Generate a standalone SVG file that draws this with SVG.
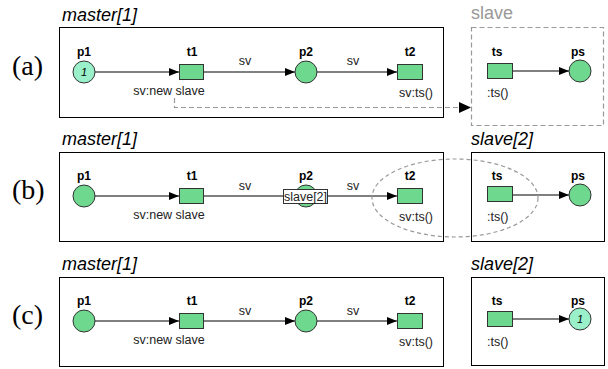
<svg xmlns="http://www.w3.org/2000/svg" width="608" height="369" viewBox="0 0 608 369">
  <style>
    .frame { fill: #ffffff; stroke: #000000; stroke-width: 1; }
    .frame-dash { fill: #ffffff; stroke: #999999; stroke-width: 1.2; stroke-dasharray: 5 3; }
    .title { font-family: "Liberation Sans", Arial, sans-serif; font-style: italic; font-size: 18px; fill: #000000; }
    .title-gray { font-family: "Liberation Sans", Arial, sans-serif; font-size: 18px; fill: #999999; }
    .tag { font-family: "Liberation Serif", "Times New Roman", serif; font-size: 28px; fill: #000000; }
    .place { fill: #6fd88f; stroke: #333333; stroke-width: 1; }
    .marked { fill: #9af0c8; stroke: #333333; stroke-width: 1; }
    .trans { fill: #6fd88f; stroke: #333333; stroke-width: 1; }
    .name { font-family: "Liberation Sans", Arial, sans-serif; font-weight: bold; font-size: 12px; fill: #000000; text-anchor: middle; }
    .lbl { font-family: "Liberation Sans", Arial, sans-serif; font-size: 12.5px; fill: #222222; }
    .tok { font-family: "Liberation Sans", Arial, sans-serif; font-style: italic; font-size: 11px; fill: #000000; text-anchor: middle; }
    .arc { stroke: #000000; stroke-width: 1; fill: none; }
    .arc-gray { stroke: #555555; stroke-width: 1.3; fill: none; }
    .link { stroke: #999999; stroke-width: 1.2; stroke-dasharray: 5 3; fill: none; }
  </style>
  <defs>
    <marker id="arrow" viewBox="0 0 10 8" refX="10" refY="4" markerWidth="10" markerHeight="8" markerUnits="userSpaceOnUse" orient="auto">
      <path d="M0,0 L10,4 L0,8 Z" fill="#000000"/>
    </marker>
  </defs>

  <!-- row labels -->
  <text class="tag" x="12" y="75">(a)</text>
  <text class="tag" x="12" y="199">(b)</text>
  <text class="tag" x="12" y="324">(c)</text>

  <!-- ===== row (a) ===== -->
  <g id="master-a">
    <text class="title" x="62" y="21">master[1]</text>
    <rect class="frame" x="59.5" y="27.5" width="384" height="90"/>
  </g>
  <g id="slave-a">
    <text class="title-gray" x="471" y="19">slave</text>
    <rect class="frame-dash" x="471.5" y="27.5" width="132" height="98"/>
  </g>
  <g id="connectors-a">
    <line class="arc" x1="95" y1="72" x2="179" y2="72" marker-end="url(#arrow)"/>
    <line class="arc" x1="204" y1="72" x2="295" y2="72" marker-end="url(#arrow)"/>
    <line class="arc" x1="317" y1="72" x2="397" y2="72" marker-end="url(#arrow)"/>
    <line class="arc-gray" x1="512" y1="71" x2="569" y2="71" marker-end="url(#arrow)"/>
    <polyline class="link" points="174.5,98 174.5,107.5 459,107.5"/>
    <path d="M459,102 L471,107.5 L459,113 Z" fill="#000000"/>
    <text class="lbl" x="245" y="65" text-anchor="middle">sv</text>
    <text class="lbl" x="353" y="65" text-anchor="middle">sv</text>
  </g>
  <g id="p1-a">
    <circle class="marked" cx="84" cy="72" r="11"/>
    <text class="tok" x="84" y="76">1</text>
    <text class="name" x="84" y="56">p1</text>
  </g>
  <g id="t1-a">
    <rect class="trans" x="179.5" y="64.5" width="24" height="15"/>
    <text class="name" x="192" y="56">t1</text>
    <text class="lbl" x="169" y="95" text-anchor="middle">sv:new slave</text>
  </g>
  <g id="p2-a">
    <circle class="place" cx="306" cy="72" r="11"/>
    <text class="name" x="306" y="56">p2</text>
  </g>
  <g id="t2-a">
    <rect class="trans" x="397.5" y="64.5" width="25" height="15"/>
    <text class="name" x="410" y="56">t2</text>
    <text class="lbl" x="416" y="97" text-anchor="middle">sv:ts()</text>
  </g>
  <g id="ts-a">
    <rect class="trans" x="487.5" y="63.5" width="25" height="15"/>
    <text class="name" x="497" y="56">ts</text>
    <text class="lbl" x="487" y="97">:ts()</text>
  </g>
  <g id="ps-a">
    <circle class="place" cx="580" cy="71" r="11"/>
    <text class="name" x="578" y="56">ps</text>
  </g>

  <!-- ===== row (b) ===== -->
  <g id="master-b">
    <text class="title" x="62" y="145">master[1]</text>
    <rect class="frame" x="59.5" y="152.5" width="384" height="89"/>
  </g>
  <g id="slave-b">
    <text class="title" x="471" y="145">slave[2]</text>
    <rect class="frame" x="471.5" y="152.5" width="133" height="89"/>
  </g>
  <g id="connectors-b">
    <line class="arc" x1="95" y1="196" x2="179" y2="196" marker-end="url(#arrow)"/>
    <line class="arc" x1="204" y1="196" x2="295" y2="196" marker-end="url(#arrow)"/>
    <line class="arc" x1="317" y1="196" x2="397" y2="196" marker-end="url(#arrow)"/>
    <line class="arc-gray" x1="512" y1="195" x2="569" y2="195" marker-end="url(#arrow)"/>
    <text class="lbl" x="245" y="190" text-anchor="middle">sv</text>
    <text class="lbl" x="353" y="190" text-anchor="middle">sv</text>
  </g>
  <g id="p1-b">
    <circle class="place" cx="84" cy="196" r="11"/>
    <text class="name" x="84" y="180">p1</text>
  </g>
  <g id="t1-b">
    <rect class="trans" x="179.5" y="188.5" width="24" height="15"/>
    <text class="name" x="192" y="180">t1</text>
    <text class="lbl" x="169" y="219" text-anchor="middle">sv:new slave</text>
  </g>
  <g id="p2-b">
    <circle class="place" cx="306" cy="196" r="11" stroke="#3a8a7a"/>
    <text class="name" x="306" y="180">p2</text>
    <rect x="283.5" y="189.5" width="44" height="14" fill="#ffffff" stroke="#333333" stroke-width="1"/>
    <text class="lbl" x="305.5" y="201" text-anchor="middle" fill="#000000" font-size="12px">slave[2]</text>
  </g>
  <g id="t2-b">
    <rect class="trans" x="397.5" y="188.5" width="25" height="15"/>
    <text class="name" x="410" y="180">t2</text>
    <text class="lbl" x="416" y="221" text-anchor="middle">sv:ts()</text>
  </g>
  <g id="ts-b">
    <rect class="trans" x="487.5" y="186.5" width="25" height="15"/>
    <text class="name" x="497" y="180">ts</text>
    <text class="lbl" x="487" y="221">:ts()</text>
  </g>
  <g id="ps-b">
    <circle class="place" cx="580" cy="195" r="11"/>
    <text class="name" x="578" y="180">ps</text>
  </g>
  <g id="focus-b">
    <ellipse cx="455" cy="198" rx="83" ry="39" fill="none" stroke="#999999" stroke-width="1.2" stroke-dasharray="4 3"/>
  </g>

  <!-- ===== row (c) ===== -->
  <g id="master-c">
    <text class="title" x="62" y="270">master[1]</text>
    <rect class="frame" x="59.5" y="277.5" width="384" height="89"/>
  </g>
  <g id="slave-c">
    <text class="title" x="471" y="270">slave[2]</text>
    <rect class="frame" x="471.5" y="277.5" width="133" height="88"/>
  </g>
  <g id="connectors-c">
    <line class="arc" x1="95" y1="321" x2="179" y2="321" marker-end="url(#arrow)"/>
    <line class="arc" x1="204" y1="321" x2="295" y2="321" marker-end="url(#arrow)"/>
    <line class="arc" x1="317" y1="321" x2="397" y2="321" marker-end="url(#arrow)"/>
    <line class="arc-gray" x1="512" y1="319" x2="569" y2="319" marker-end="url(#arrow)"/>
    <text class="lbl" x="245" y="315" text-anchor="middle">sv</text>
    <text class="lbl" x="353" y="315" text-anchor="middle">sv</text>
  </g>
  <g id="p1-c">
    <circle class="place" cx="84" cy="321" r="11"/>
    <text class="name" x="84" y="305">p1</text>
  </g>
  <g id="t1-c">
    <rect class="trans" x="179.5" y="313.5" width="24" height="15"/>
    <text class="name" x="192" y="305">t1</text>
    <text class="lbl" x="169" y="344" text-anchor="middle">sv:new slave</text>
  </g>
  <g id="p2-c">
    <circle class="place" cx="306" cy="321" r="11"/>
    <text class="name" x="306" y="305">p2</text>
  </g>
  <g id="t2-c">
    <rect class="trans" x="397.5" y="313.5" width="25" height="15"/>
    <text class="name" x="410" y="305">t2</text>
    <text class="lbl" x="416" y="346" text-anchor="middle">sv:ts()</text>
  </g>
  <g id="ts-c">
    <rect class="trans" x="487.5" y="311.5" width="25" height="15"/>
    <text class="name" x="497" y="305">ts</text>
    <text class="lbl" x="487" y="346">:ts()</text>
  </g>
  <g id="ps-c">
    <circle class="marked" cx="580" cy="319" r="11"/>
    <text class="tok" x="580" y="323">1</text>
    <text class="name" x="578" y="305">ps</text>
  </g>
</svg>
